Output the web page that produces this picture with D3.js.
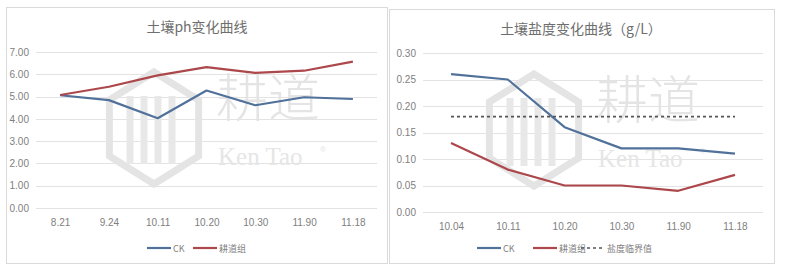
<!DOCTYPE html>
<html>
<head>
<meta charset="utf-8">
<script src="https://cdn.jsdelivr.net/npm/d3@7"></script>
<style>
  body { margin: 0; background: #fff; }
  text { font-family: "Liberation Sans", "Noto Sans CJK SC", sans-serif; }
</style>
</head>
<body>
<div id="chart"></div>
<script>
// data for the ph chart
var phDates = ["8.21", "9.24", "10.11", "10.20", "10.30", "11.90", "11.18"];
var phCK = [5.06, 4.84, 4.03, 5.27, 4.61, 4.97, 4.89];
var phGengdao = [5.07, 5.44, 5.95, 6.32, 6.06, 6.16, 6.57];
var phTicks = [0, 1, 2, 3, 4, 5, 6, 7];

// data for the salinity chart
var saltDates = ["10.04", "10.11", "10.20", "10.30", "11.90", "11.18"];
var saltCK = [0.26, 0.25, 0.16, 0.12, 0.12, 0.11];
var saltGengdao = [0.13, 0.08, 0.05, 0.05, 0.04, 0.07];
var saltLimit = [0.18, 0.18, 0.18, 0.18, 0.18, 0.18];
var saltTicks = [0, 0.05, 0.10, 0.15, 0.20, 0.25, 0.30];

var blue = "#50719a", red = "#ac474b";

var svg = d3.select("#chart").append("svg")
  .attr("width", 788)
  .attr("height", 271);

// faint "耕道 Ken Tao" watermark that sits behind the lines
function watermark(g, cx, cy) {
  var wm = g.append("g");
  var hx = cx - 48, r = 56;
  var hex = d3.range(6).map(function(i) {
    var a = Math.PI / 3 * i - Math.PI / 2;
    return [hx + r * Math.cos(a) * 0.92, cy + 8 + r * Math.sin(a)];
  });
  wm.append("path")
    .attr("d", d3.line()(hex) + "Z")
    .attr("fill", "none")
    .attr("stroke", "#e4e4e4")
    .attr("stroke-width", 7);
  [-24, -10, 4, 18].forEach(function(dx) {
    wm.append("line")
      .attr("x1", hx + dx).attr("x2", hx + dx)
      .attr("y1", cy - 24).attr("y2", cy + 44)
      .attr("stroke", "#e8e8e8").attr("stroke-width", 7);
  });
  wm.append("text")
    .attr("x", cx + 14).attr("y", cy - 3)
    .style("font-family", "Noto Sans CJK SC")
    .style("font-size", "52px")
    .style("font-weight", "300")
    .attr("fill", "#e4e4e4")
    .text("耕道");
  wm.append("text")
    .attr("x", cx + 16).attr("y", cy + 45)
    .style("font-family", "Liberation Serif")
    .style("font-size", "25px")
    .attr("fill", "#e6e6e6")
    .text("Ken Tao");
  wm.append("text")
    .attr("x", cx + 118).attr("y", cy + 32)
    .style("font-size", "8px")
    .attr("fill", "#e4e4e4")
    .text("®");
}

function drawChart(opt) {
  var g = svg.append("g");

  // panel frame
  g.append("rect")
    .attr("x", opt.box[0] + 0.5).attr("y", opt.box[1] + 0.5)
    .attr("width", opt.box[2]).attr("height", opt.box[3])
    .attr("fill", "#fff")
    .attr("stroke", "#dadada");

  var x = d3.scalePoint()
    .domain(opt.dates)
    .range([opt.left + opt.step / 2, opt.right - opt.step / 2]);

  var y = d3.scaleLinear()
    .domain([0, opt.ticks[opt.ticks.length - 1]])
    .range([opt.bottom, opt.top]);

  // grid lines
  g.append("g")
    .selectAll("line")
    .data(opt.ticks)
    .enter().append("line")
      .attr("x1", opt.left).attr("x2", opt.right)
      .attr("y1", function(d) { return Math.round(y(d)) + 0.5; })
      .attr("y2", function(d) { return Math.round(y(d)) + 0.5; })
      .attr("stroke", "#e3e3e3");

  watermark(g, opt.wm[0], opt.wm[1]);

  // y axis labels
  var yAxis = g.append("g")
    .attr("transform", "translate(" + (opt.left - 4) + ",0)")
    .call(d3.axisLeft(y).tickValues(opt.ticks).tickSize(0).tickFormat(d3.format(".2f")));
  yAxis.select(".domain").remove();
  yAxis.selectAll("text")
    .attr("fill", "#808080")
    .style("font-size", "10px");

  // x axis labels
  var xAxis = g.append("g")
    .attr("transform", "translate(0," + (opt.bottom + 8) + ")")
    .call(d3.axisBottom(x).tickSize(0));
  xAxis.select(".domain").remove();
  xAxis.selectAll("text")
    .attr("fill", "#808080")
    .style("font-size", "10px");

  // title
  g.append("text")
    .attr("x", opt.titleX).attr("y", opt.titleY)
    .attr("text-anchor", "middle")
    .style("font-family", "Noto Sans CJK SC")
    .style("font-size", "14px")
    .attr("fill", "#6e6e6e")
    .text(opt.title);

  var line = d3.line()
    .x(function(d, i) { return x(opt.dates[i]); })
    .y(function(d) { return y(d); });

  opt.series.forEach(function(s) {
    g.append("path")
      .datum(s.values)
      .attr("d", line)
      .attr("fill", "none")
      .attr("stroke", s.color)
      .attr("stroke-width", s.dash ? 1.6 : 2.2)
      .attr("stroke-dasharray", s.dash ? "3,3" : null)
      .attr("stroke-linejoin", "round");
  });

  // legend
  var lg = g.append("g");
  opt.series.forEach(function(s, i) {
    var lx = opt.legendX[i];
    lg.append("line")
      .attr("x1", lx).attr("x2", lx + 24)
      .attr("y1", opt.legendY).attr("y2", opt.legendY)
      .attr("stroke", s.color)
      .attr("stroke-width", s.dash ? 1.6 : 2.2)
      .attr("stroke-dasharray", s.dash ? "3,3" : null);
    lg.append("text")
      .attr("x", lx + 26).attr("y", opt.legendY + 3.5)
      .style("font-family", "Noto Sans CJK SC")
      .style("font-size", "9px")
      .attr("fill", "#808080")
      .text(s.name);
  });
}

drawChart({
  box: [6, 7, 381, 256],
  left: 36, right: 377, top: 52, bottom: 208, step: 48.2,
  dates: phDates, ticks: phTicks,
  title: "土壤ph变化曲线", titleX: 197, titleY: 32,
  wm: [202, 120],
  series: [
    {name: "CK", values: phCK, color: blue},
    {name: "耕道组", values: phGengdao, color: red}
  ],
  legendX: [147, 193], legendY: 248
});

drawChart({
  box: [389, 9, 385, 254],
  left: 423, right: 763, top: 53, bottom: 212, step: 56,
  dates: saltDates, ticks: saltTicks,
  title: "土壤盐度变化曲线（g/L）", titleX: 581, titleY: 34,
  wm: [582, 122],
  series: [
    {name: "CK", values: saltCK, color: blue},
    {name: "耕道组", values: saltGengdao, color: red},
    {name: "盐度临界值", values: saltLimit, color: "#555", dash: true}
  ],
  legendX: [477, 533, 581], legendY: 248
});
</script>
</body>
</html>
